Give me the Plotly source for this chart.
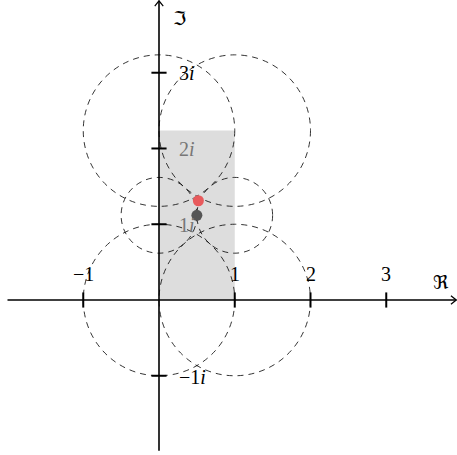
import plotly.graph_objects as go

# data
x_ticks = [-1, 1, 2, 3]
x_tick_labels = ["−1", "1", "2", "3"]
y_ticks = [-1, 1, 2, 3]
y_tick_labels = ["−1<i>i</i>", "1<i>i</i>", "2<i>i</i>", "3<i>i</i>"]
rect_x = [0, 1]
rect_y = [0, 2.236]
circle_cx = [0, 1, 0, 1, 0, 1]
circle_cy = [0, 0, 2.236, 2.236, 1.118, 1.118]
circle_r = [1, 1, 1, 1, 0.5, 0.5]
point_red = [0.52, 1.31]
point_dark = [0.5, 1.118]

XR = [-2.099, 3.934]
YR = [-2.046, 3.960]

fig = go.Figure()
shapes = []
# grey rectangle
shapes.append(dict(type="rect", x0=rect_x[0], x1=rect_x[1], y0=rect_y[0], y1=rect_y[1],
                   fillcolor="#dddddd", line=dict(width=0), layer="below"))
# circles
for cx, cy, r in zip(circle_cx, circle_cy, circle_r):
    shapes.append(dict(type="circle", x0=cx - r, x1=cx + r, y0=cy - r, y1=cy + r, layer="below",
                       line=dict(color="black", width=0.8, dash="6px,5px")))
# axes
shapes.append(dict(type="line", x0=-2.0, x1=XR[1] - 0.01, y0=0, y1=0, layer="below",
                   line=dict(color="black", width=1.6)))
shapes.append(dict(type="line", x0=0, x1=0, y0=-1.99, y1=YR[1] - 0.01, layer="below",
                   line=dict(color="black", width=1.6)))
# arrows
a = 0.07
shapes.append(dict(type="path", path=f"M {XR[1]-0.01-a},{a*0.8} L {XR[1]-0.01},0 L {XR[1]-0.01-a},{-a*0.8}",
                   line=dict(color="black", width=1.2), layer="below"))
shapes.append(dict(type="path", path=f"M {-a*0.8},{YR[1]-0.01-a} L 0,{YR[1]-0.01} L {a*0.8},{YR[1]-0.01-a}",
                   line=dict(color="black", width=1.2), layer="below"))
# ticks
t = 0.1
for xt in x_ticks:
    shapes.append(dict(type="line", x0=xt, x1=xt, y0=-t, y1=t, layer="below",
                       line=dict(color="black", width=2)))
for yt in y_ticks:
    shapes.append(dict(type="line", x0=-t, x1=t, y0=yt, y1=yt, layer="below",
                       line=dict(color="black", width=2)))

annotations = []
font = dict(family="Liberation Serif, DejaVu Serif, serif", size=20, color="black")
for xt, lab in zip(x_ticks, x_tick_labels):
    annotations.append(dict(x=xt, y=0.34, text=lab, showarrow=False, font=font,
                            xanchor="center", yanchor="middle"))
for yt, lab in zip(y_ticks, y_tick_labels):
    inside = rect_y[0] < yt < rect_y[1]
    f = dict(font, color="#777777" if inside else "black")
    annotations.append(dict(x=0.24, y=yt - 0.01, text=lab, showarrow=False, font=f,
                            xanchor="left", yanchor="middle"))
sym_font = dict(family="DejaVu Sans, Noto Sans, sans-serif", size=19, color="black")
annotations.append(dict(x=3.72, y=0.24, text="ℜ", showarrow=False, font=sym_font,
                        xanchor="center", yanchor="middle"))
annotations.append(dict(x=0.27, y=3.72, text="ℑ", showarrow=False, font=sym_font,
                        xanchor="center", yanchor="middle"))

fig.add_trace(go.Scatter(x=[point_dark[0]], y=[point_dark[1]], mode="markers",
                         marker=dict(color="#555555", size=11), hoverinfo="skip"))
fig.add_trace(go.Scatter(x=[point_red[0]], y=[point_red[1]], mode="markers",
                         marker=dict(color="#e85a5c", size=11), hoverinfo="skip"))

fig.update_layout(width=457, height=455, margin=dict(l=0, r=0, t=0, b=0),
                  paper_bgcolor="white", plot_bgcolor="white", showlegend=False,
                  shapes=shapes, annotations=annotations,
                  xaxis=dict(range=XR, visible=False, fixedrange=True),
                  yaxis=dict(range=YR, visible=False, fixedrange=True))
fig.write_html("out.html", config={"displayModeBar": False},
               post_script="document.body.style.margin='0px';")
